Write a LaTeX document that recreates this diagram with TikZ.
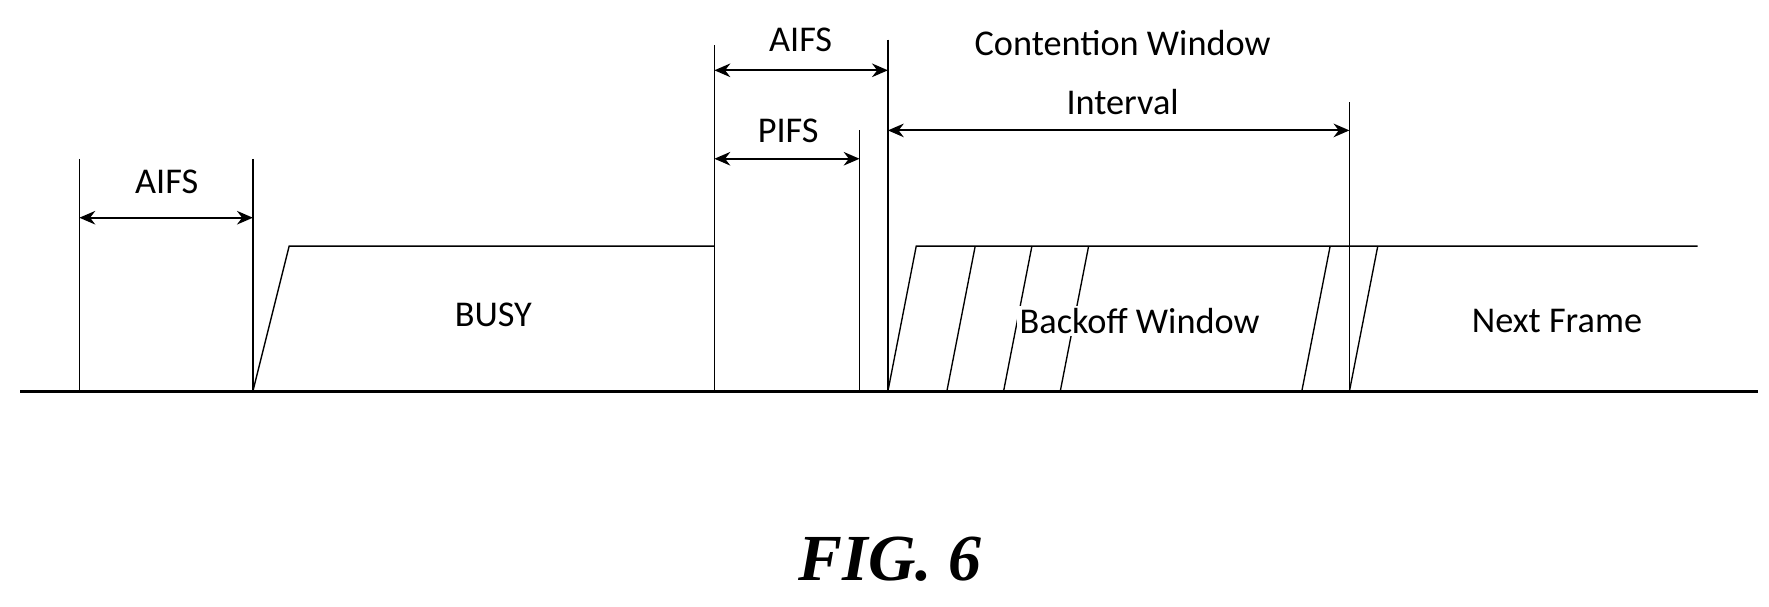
\documentclass[tikz,border=0pt]{standalone}
\usepackage{fontspec}
\setmainfont{Carlito}
\newfontfamily\figfont{Liberation Serif}
\usetikzlibrary{arrows.meta}
\begin{document}
\begin{tikzpicture}
    [x=0.5pt,y=-0.5pt,
     tick/.style={semithick},
     span/.style={{Stealth[length=7pt,width=6pt]}-{Stealth[length=7pt,width=6pt]},thick},
     lbl/.style={font=\fontsize{16}{19}\selectfont,inner sep=1pt}]
    \useasboundingbox (0,0) rectangle (1560,535);
    % time axis
    \draw [very thick] (18,345) -- (1550,345);
    % slot boundaries
    \coordinate (a1) at (70,140);   \coordinate (a1b) at (70,345);
    \coordinate (a2) at (223,140);  \coordinate (a2b) at (223,345);
    \coordinate (b1) at (630,40);   \coordinate (b1b) at (630,345);
    \coordinate (p2) at (758,115);  \coordinate (p2b) at (758,345);
    \coordinate (b2) at (783,35);   \coordinate (b2b) at (783,345);
    \coordinate (c2) at (1190,90);  \coordinate (c2b) at (1190,345);
    \foreach \t/\b in {a1/a1b,a2/a2b,b1/b1b,p2/p2b,b2/b2b,c2/c2b}
      \draw [tick] (\t) -- (\b);
    % busy medium
    \draw [tick] (223,345) -- (255,217) -- (630,217);
    % backoff and next frame
    \draw [tick] (783,345) -- (808,217) -- (1497,217);
    \foreach \s in {835,885,935,1148,1190}
      \draw [tick] (\s,345) -- (\s+25,217);
    % spans
    \draw [span] (70,192) -- (223,192);
    \draw [span] (630,62) -- (783,62);
    \draw [span] (630,140) -- (758,140);
    \draw [span] (783,115) -- (1190,115);
    \node [lbl] (aifsA) at (147,160) {AIFS};
    \node [lbl] (aifsB) at (706,35) {AIFS};
    \node [lbl] (pifs) at (695,115) {PIFS};
    \node [lbl] (cw) at (990,38) {Contention Window};
    \node [lbl] (cwi) at (990,90) {Interval};
    \node [lbl] (busy) at (435,278) {BUSY};
    \node [lbl,fill=white] (backoff) at (1005,283) {Backoff Window};
    \node [lbl] (next) at (1373,283) {Next Frame};
    \node [font=\figfont\bfseries\itshape\fontsize{29}{34}\selectfont] (fig) at (785,493) {FIG. 6};
  \end{tikzpicture}
\end{document}
